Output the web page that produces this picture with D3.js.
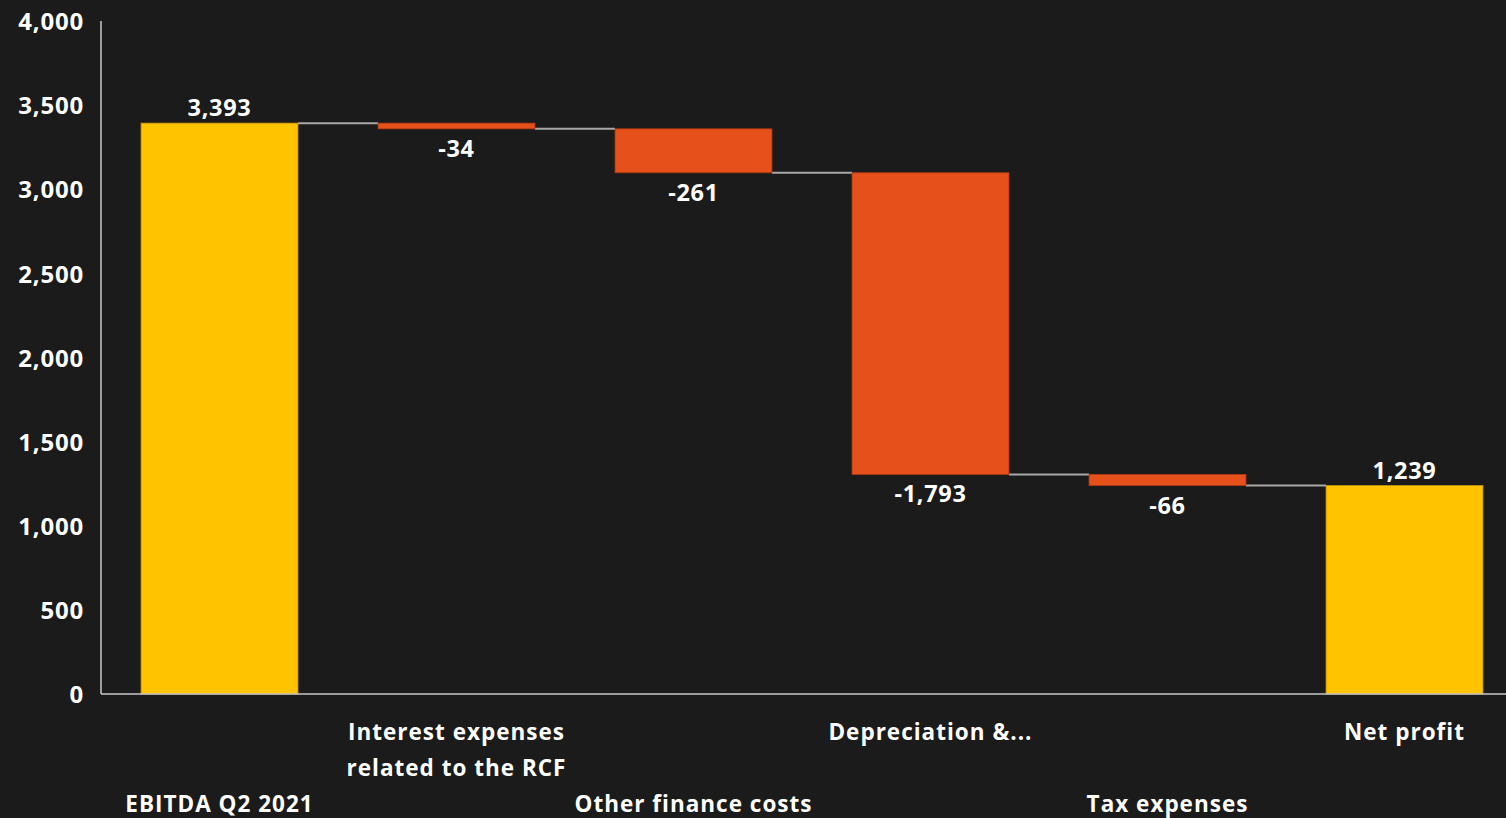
<!DOCTYPE html>
<html>
<head>
<meta charset="utf-8">
<script src="https://cdn.jsdelivr.net/npm/d3@7"></script>
<style>
  html, body { margin: 0; padding: 0; background: #1b1b1b; overflow: hidden; }
  text { font-family: "Open Sans", "DejaVu Sans", sans-serif; font-weight: 700; fill: #ffffff; }
</style>
</head>
<body>
<div class="chart"></div>
<script>
// data
var categories = ["EBITDA Q2 2021", "Interest expenses related to the RCF", "Other finance costs", "Depreciation &...", "Tax expenses", "Net profit"];
var labelLines = [["EBITDA Q2 2021"], ["Interest expenses", "related to the RCF"], ["Other finance costs"], ["Depreciation &..."], ["Tax expenses"], ["Net profit"]];
var values = [3393, -34, -261, -1793, -66, 1239];
var isTotal = [true, false, false, false, false, true];
var yTicks = [0, 500, 1000, 1500, 2000, 2500, 3000, 3500, 4000];

var W = 1506, H = 818;
var margin = { left: 101, top: 21, bottom: 124 };
var svg = d3.select("div.chart").append("svg")
  .attr("width", W)
  .attr("height", H);

// running totals for the waterfall
var bars = [];
var running = 0;
for (var i = 0; i < categories.length; i++) {
  var start, end;
  if (isTotal[i]) { start = 0; end = values[i]; running = values[i]; }
  else { start = running; end = running + values[i]; running = end; }
  bars.push({ name: categories[i], lines: labelLines[i], value: values[i], start: start, end: end, total: isTotal[i], idx: i });
}

var x = d3.scaleBand()
  .domain(categories)
  .range([margin.left, 1523])
  .paddingInner(0.338)
  .paddingOuter(0.169);

var y = d3.scaleLinear()
  .domain([0, 4000])
  .range([H - margin.bottom, margin.top]);

var fmt = function(v) { return d3.format(",")(v).replace("\u2212", "-"); };

// y axis labels
var yAxis = svg.append("g")
  .attr("transform", "translate(" + margin.left + ",0)")
  .call(d3.axisLeft(y).tickValues(yTicks).tickSize(0).tickPadding(17).tickFormat(fmt));
yAxis.select(".domain").remove();
yAxis.selectAll("text")
  .attr("font-size", "24px")
  .attr("letter-spacing", "0.8px")
  .attr("dy", "0.36em")
  .style("font-family", "'Open Sans', sans-serif")
  .attr("fill", "#fff");

// connectors
for (var j = 0; j < bars.length - 1; j++) {
  var b = bars[j];
  svg.append("line")
    .attr("x1", x(b.name) + x.bandwidth())
    .attr("x2", x(bars[j + 1].name))
    .attr("y1", y(b.end))
    .attr("y2", y(b.end))
    .attr("stroke", "#a8a8a8")
    .attr("stroke-width", 2);
}

// bars
svg.selectAll("rect.bar")
  .data(bars)
  .enter()
  .append("rect")
  .attr("class", "bar")
  .attr("x", function(d) { return x(d.name); })
  .attr("width", x.bandwidth())
  .attr("y", function(d) { return y(Math.max(d.start, d.end)); })
  .attr("height", function(d) { return Math.abs(y(d.start) - y(d.end)); })
  .attr("fill", function(d) { return d.total ? "#ffc300" : "#e5501b"; })
  .attr("stroke", function(d) { return d.total ? "#c99a00" : "#b23a10"; })
  .attr("stroke-width", 0.8);

// value labels
svg.selectAll("text.val")
  .data(bars)
  .enter()
  .append("text")
  .attr("class", "val")
  .attr("text-anchor", "middle")
  .attr("font-size", "23.5px")
  .attr("letter-spacing", "0.7px")
  .attr("x", function(d) { return x(d.name) + x.bandwidth() / 2; })
  .attr("y", function(d) {
    if (d.total) return y(d.end) - 7;
    return y(d.end) + 28;
  })
  .text(function(d) { return fmt(d.value); });

// axis lines
svg.append("line")
  .attr("x1", margin.left).attr("x2", margin.left)
  .attr("y1", margin.top).attr("y2", y(0))
  .attr("stroke", "#c8c8c8").attr("stroke-width", 1.5);
svg.append("line")
  .attr("x1", margin.left).attr("x2", W)
  .attr("y1", y(0)).attr("y2", y(0))
  .attr("stroke", "#c8c8c8").attr("stroke-width", 1.5);

// category labels, staggered in two rows
var cat = svg.selectAll("text.cat")
  .data(bars)
  .enter()
  .append("text")
  .attr("class", "cat")
  .attr("text-anchor", "middle")
  .attr("font-size", "22.5px")
  .attr("letter-spacing", "1px")
  .attr("x", function(d) { return x(d.name) + x.bandwidth() / 2; })
  .attr("y", function(d) { return d.idx % 2 == 1 ? 740 : 812; });
cat.selectAll("tspan")
  .data(function(d) { return d.lines.map(function(l, k) { return { t: l, k: k, x: x(d.name) + x.bandwidth() / 2 }; }); })
  .enter()
  .append("tspan")
  .attr("x", function(d) { return d.x; })
  .attr("dy", function(d) { return d.k == 0 ? 0 : 36; })
  .text(function(d) { return d.t; });
</script>
</body>
</html>
